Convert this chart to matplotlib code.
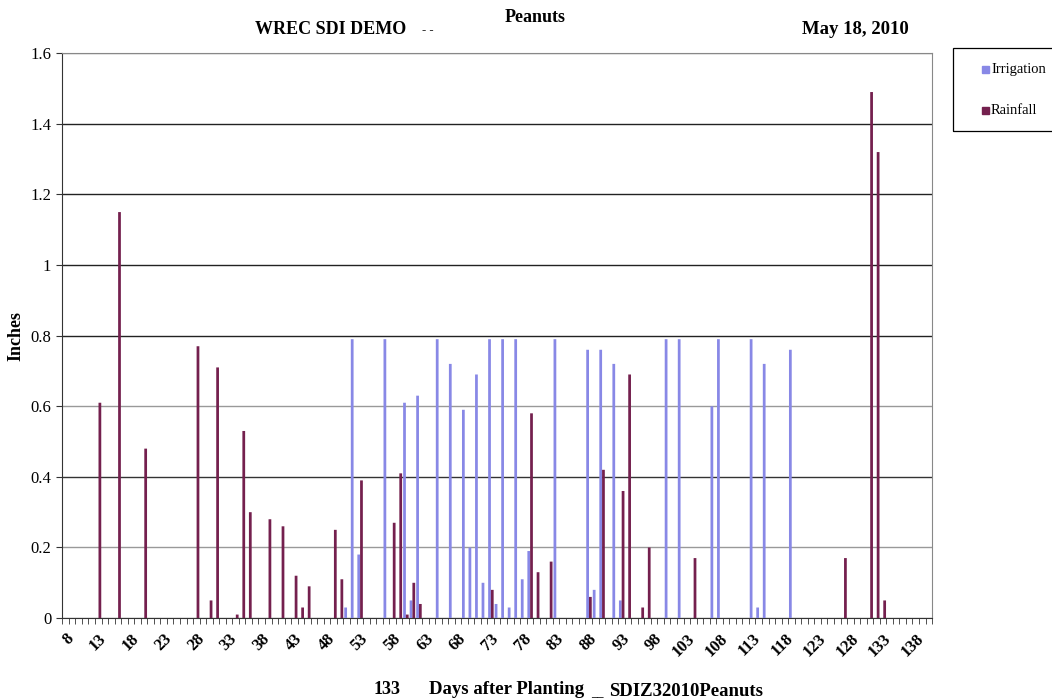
import numpy as np
import matplotlib
matplotlib.use('Agg')
import matplotlib.pyplot as plt
from matplotlib.ticker import FixedLocator
from matplotlib.patches import Rectangle

# days after planting shown on the category axis
days = list(range(8, 141))

irrigation_days = [51, 52, 53, 57, 60, 61, 62, 65, 67, 69, 70, 71, 72, 73, 74, 75, 76, 77, 78, 79,
                   83, 88, 89, 90, 92, 93, 100, 102, 107, 108, 113, 114, 115, 119]
irrigation_in = [0.03, 0.79, 0.18, 0.79, 0.61, 0.05, 0.63, 0.79, 0.72, 0.59, 0.20, 0.69, 0.10, 0.79,
                 0.04, 0.79, 0.03, 0.79, 0.11, 0.19, 0.79, 0.76, 0.08, 0.76, 0.72, 0.05, 0.79, 0.79,
                 0.60, 0.79, 0.79, 0.03, 0.72, 0.76]

rainfall_days = [13, 16, 20, 28, 30, 31, 34, 35, 36, 39, 41, 43, 44, 45, 49, 50, 53, 58, 59, 60,
                 61, 62, 73, 79, 80, 82, 88, 90, 93, 94, 96, 97, 104, 127, 131, 132, 133]
rainfall_in = [0.61, 1.15, 0.48, 0.77, 0.05, 0.71, 0.01, 0.53, 0.30, 0.28, 0.26, 0.12, 0.03, 0.09,
               0.25, 0.11, 0.39, 0.27, 0.41, 0.01, 0.10, 0.04, 0.08, 0.58, 0.13, 0.16, 0.06, 0.42,
               0.36, 0.69, 0.03, 0.20, 0.17, 0.17, 1.49, 1.32, 0.05]

IRR_COLOR = '#8888e6'
RAIN_COLOR = '#74204e'

irr = dict(zip(irrigation_days, irrigation_in))
rain = dict(zip(rainfall_days, rainfall_in))
irr_series = [irr.get(d, 0) for d in days]
rain_series = [rain.get(d, 0) for d in days]

plt.rcParams['font.family'] = ['Liberation Serif', 'DejaVu Serif']

fig = plt.figure(figsize=(10.52, 7.0), dpi=100)
ax = fig.add_axes([0.0592, 0.117, 0.8268, 0.807])

x = np.arange(len(days))
w = 0.42
ax.bar(x - 0.17, irr_series, width=w, color=IRR_COLOR, linewidth=0, snap=False, zorder=3)
ax.bar(x + 0.25, rain_series, width=w, color=RAIN_COLOR, linewidth=0, snap=False, zorder=3)

ax.set_xlim(-0.5, len(days) - 0.5)
ax.set_ylim(0, 1.6)

# labels every 5 days, tick marks at every category boundary
ax.set_xticks(x[::5])
ax.set_xticklabels([str(d) for d in days[::5]], rotation=45, ha='right',
                   rotation_mode='anchor', fontsize=12, fontweight='bold')
ax.tick_params(axis='x', which='major', length=0, pad=9)
ax.xaxis.set_minor_locator(FixedLocator(np.arange(-0.5, len(days), 1)))
ax.tick_params(axis='x', which='minor', length=4, direction='out', color='#333333')

yt = np.arange(0, 1.61, 0.2)
ax.set_yticks(yt)
ax.set_yticklabels(['%g' % round(v, 1) for v in yt], fontsize=12)
ax.tick_params(axis='y', length=4, direction='out', color='#333333', pad=4)

ax.grid(axis='y', zorder=0, linewidth=1.0)
gcols = ['#888888', '#999999', '#333333', '#999999', '#222222', '#222222', '#222222', '#222222', '#888888']
for gl, c in zip(ax.get_ygridlines(), gcols):
    gl.set_color(c)

for s in ['left', 'bottom']:
    ax.spines[s].set_color('#333333')
for s in ['top', 'right']:
    ax.spines[s].set_color('#888888')

ax.set_ylabel('Inches', fontsize=13, fontweight='bold')
ax.yaxis.set_label_coords(-0.044, 0.5)

# header texts
fig.text(331 / 1052, 1 - 29 / 700, 'WREC SDI DEMO', ha='center', va='center', fontsize=13, fontweight='bold')
fig.text(428 / 1052, 1 - 30 / 700, '- -', ha='center', va='center', fontsize=9, fontweight='bold')
fig.text(535 / 1052, 1 - 18 / 700, 'Peanuts', ha='center', va='center', fontsize=13, fontweight='bold')
fig.text(855 / 1052, 1 - 30 / 700, 'May 18, 2010', ha='center', va='center', fontsize=13.5, fontweight='bold')

# footer texts
fig.text(387 / 1052, 1 - 689 / 700, '133', ha='center', va='center', fontsize=13, fontweight='bold')
fig.text(507 / 1052, 1 - 689 / 700, 'Days after Planting', ha='center', va='center', fontsize=13.5, fontweight='bold')
fig.text(597 / 1052, 1 - 693 / 700, '__', ha='center', va='center', fontsize=9, fontweight='bold')
fig.text(686 / 1052, 1 - 691 / 700, 'SDIZ32010Peanuts', ha='center', va='center', fontsize=13.5, fontweight='bold')

# legend box, partly cut by the right edge
H = 700.0
fig.patches.append(Rectangle((953 / 1052, 1 - 131 / H), 110 / 1052, 83 / H, transform=fig.transFigure,
                             fill=False, edgecolor='black', linewidth=0.9))
for ypix, name, col in [(69, 'Irrigation', IRR_COLOR), (110, 'Rainfall', RAIN_COLOR)]:
    fig.patches.append(Rectangle((982 / 1052, 1 - (ypix + 3.5) / H), 7 / 1052, 7 / H,
                                 transform=fig.transFigure, color=col))
    fig.text(991 / 1052, 1 - ypix / H, name, ha='left', va='center', fontsize=10.5)

fig.savefig('out.png', dpi=100)
